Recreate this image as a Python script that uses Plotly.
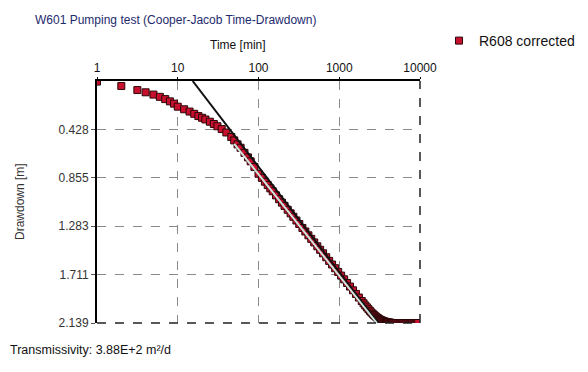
import plotly.graph_objects as go

# ---- data ----
time_min = [1, 2, 3.16, 4, 5, 6, 7, 8, 9, 10, 12, 14, 16, 18, 20, 22, 25, 28, 31, 35,
            40, 46, 50, 55, 60, 67, 74, 80, 89,
            100, 110, 120, 130, 140, 150, 165, 180, 195, 210, 230, 250, 270, 295, 320,
            350, 380, 415, 450, 490, 535, 580, 630, 690, 750, 815, 890, 970, 1055,
            1150, 1250, 1360, 1480, 1610, 1750, 1900,
            2000, 2100, 2200, 2300, 2400, 2500, 2600, 2700, 2800, 2900, 3000,
            3100, 3200, 3300, 3400, 3500, 3600, 3700, 3800, 3900, 4000,
            4100, 4200, 4300, 4400, 4500, 4650, 4800, 4950, 5100, 5250, 5400,
            5550, 5700, 5850, 6000, 6200, 6400, 6600, 6800, 7000, 7200, 7400,
            7600, 7800, 8000, 8250, 8500, 8750, 9000, 9250, 9500]
drawdown_m = [0.005, 0.044, 0.08, 0.10, 0.12, 0.14, 0.16, 0.18, 0.20, 0.227, 0.25, 0.27,
              0.29, 0.31, 0.325, 0.34, 0.36, 0.38, 0.40, 0.425,
              0.455, 0.495, 0.525, 0.56, 0.59, 0.635, 0.675, 0.71, 0.76,
              0.820, 0.856, 0.890, 0.920, 0.949, 0.975, 1.011, 1.045, 1.075, 1.104,
              1.138, 1.170, 1.200, 1.233, 1.264, 1.299, 1.330, 1.364, 1.395, 1.427,
              1.461, 1.492, 1.523, 1.558, 1.590, 1.622, 1.655, 1.688, 1.720, 1.753,
              1.785, 1.817, 1.850, 1.882, 1.914, 1.945,
              1.965, 1.984, 2.001, 2.017, 2.032, 2.046, 2.058, 2.069, 2.079, 2.088, 2.096,
              2.103, 2.109, 2.114, 2.118, 2.122, 2.125, 2.128, 2.130, 2.132, 2.134,
              2.135, 2.136, 2.137, 2.138, 2.139, 2.139, 2.139, 2.139, 2.139, 2.139, 2.139,
              2.139, 2.139, 2.139, 2.139, 2.139, 2.139, 2.139, 2.139, 2.139, 2.139, 2.139,
              2.139, 2.139, 2.139, 2.139, 2.139, 2.139, 2.139, 2.139, 2.139]

# Cooper-Jacob straight line (black) and light fit line
cj_time = [15.3, 3050]
cj_drawdown = [0.0, 2.139]
fit_time = [50, 2920]
fit_drawdown = [0.555, 2.139]

x_tickvals = [1, 10, 100, 1000, 10000]
x_ticktext = ["1", "10", "100", "1000", "10000"]
y_tickvals = [0.428, 0.855, 1.283, 1.711, 2.139]
y_ticktext = ["0.428", "0.855", "1.283", "1.711", "2.139"]

FONT = "Liberation Sans, Arial, sans-serif"
PW, PH = 323, 242  # plot area size in px
L, T = 89, 73


def px(fx):
    return (fx - L) / PW


def py(fy):
    return (T + PH - fy) / PH


fig = go.Figure()
fig.add_trace(go.Scatter(
    x=time_min, y=drawdown_m, mode="markers", name="R608 corrected",
    marker=dict(symbol="square", size=7, color="#c8102e",
                line=dict(color="#2a0808", width=1)),
    cliponaxis=True,
))
fig.add_trace(go.Scatter(
    x=cj_time, y=cj_drawdown, mode="lines", showlegend=False,
    line=dict(color="#111111", width=2),
))
fig.add_trace(go.Scatter(
    x=fit_time, y=fit_drawdown, mode="lines", showlegend=False,
    line=dict(color="#cfe6de", width=2),
))

fig.update_layout(
    width=580, height=364,
    margin=dict(l=L, r=580 - L - PW, t=T, b=364 - T - PH, autoexpand=False),
    paper_bgcolor="white", plot_bgcolor="white",
    font=dict(family=FONT, size=12, color="#222222"),
    showlegend=True,
    legend=dict(x=px(431), y=py(33), xanchor="left", yanchor="middle",
                bgcolor="rgba(0,0,0,0)", font=dict(size=14, color="#111"),
                itemwidth=30, borderwidth=0),
    xaxis=dict(
        type="log", range=[0, 4], side="top",
        tickvals=x_tickvals, ticktext=x_ticktext,
        ticks="outside", ticklen=2, tickcolor="#000",
        showgrid=True, gridcolor="#8a8a8a", griddash="dash", gridwidth=1,
        showline=True, linecolor="#000", linewidth=2,
        zeroline=False, tickfont=dict(size=12, color="#111"),
    ),
    yaxis=dict(
        range=[2.139, 0], autorange=False,
        tickvals=y_tickvals, ticktext=y_ticktext,
        ticks="outside", ticklen=4, tickcolor="#555",
        showgrid=True, gridcolor="#8a8a8a", griddash="dash", gridwidth=1,
        showline=True, linecolor="#000", linewidth=2,
        zeroline=False, tickfont=dict(size=12, color="#333"),
    ),
)

# dashed dark borders at bottom and right
fig.add_shape(type="line", xref="paper", yref="paper", x0=0, x1=1, y0=0, y1=0,
              line=dict(color="#222", width=1.5, dash="dash"))
fig.add_shape(type="line", xref="paper", yref="paper", x0=1, x1=1, y0=0, y1=1,
              line=dict(color="#222", width=1.5, dash="dash"))

fig.add_annotation(text="W601 Pumping test (Cooper-Jacob Time-Drawdown)",
                   xref="paper", yref="paper", x=px(25), y=py(12),
                   xanchor="left", yanchor="middle", showarrow=False,
                   font=dict(size=12, color="#1e2a6e"))
fig.add_annotation(text="Time [min]", xref="paper", yref="paper",
                   x=px(230), y=py(37), xanchor="center", yanchor="middle",
                   showarrow=False, font=dict(size=12, color="#111"))
fig.add_annotation(text="Drawdown [m]", xref="paper", yref="paper",
                   x=px(12), y=0.5, xanchor="center", yanchor="middle", textangle=-90,
                   showarrow=False, font=dict(size=12, color="#333"))
fig.add_annotation(text="Transmissivity: 3.88E+2 m²/d", xref="paper", yref="paper",
                   x=px(0), y=py(342), xanchor="left", yanchor="middle",
                   showarrow=False, font=dict(size=12.5, color="#111"))

fig.write_html("out.html")
